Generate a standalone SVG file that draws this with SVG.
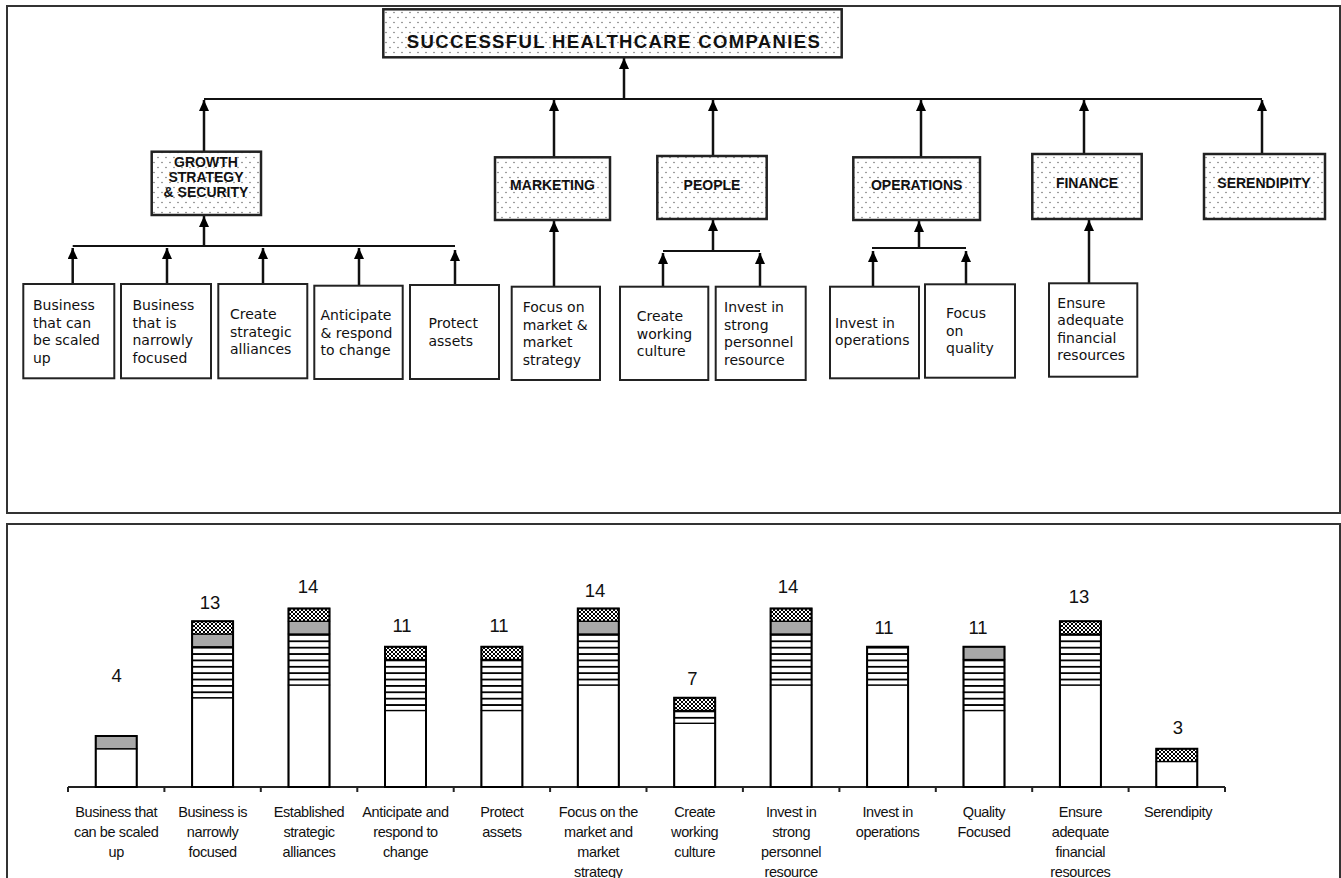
<svg xmlns="http://www.w3.org/2000/svg" width="1341" height="878" viewBox="0 0 1341 878">
<style>
.panel{fill:#fff;stroke:#333;stroke-width:2}
.cat{fill:url(#dots);stroke:#222;stroke-width:2.5}
.leaf{fill:#fff;stroke:#222;stroke-width:2}
.conn{fill:none;stroke:#111;stroke-width:2}
.arr{fill:none;stroke:#111;stroke-width:2.5;marker-end:url(#ah)}
.ct{font-family:"Liberation Sans",Arial,sans-serif;font-weight:bold;font-size:14px;fill:#111;text-anchor:middle}
.lt{font-family:"DejaVu Sans",Verdana,sans-serif;font-size:14px;fill:#111}
.val{font-family:"Liberation Sans",Arial,sans-serif;font-size:18.5px;fill:#111;text-anchor:middle}
.xl{font-family:"Liberation Sans",Arial,sans-serif;font-size:14.5px;fill:#111;text-anchor:middle;letter-spacing:-0.4px}
.seg{stroke:#000;stroke-width:1.3}
.w{fill:#fff}
.s{fill:url(#stripes)}
.g{fill:#a8a8a8}
.x{fill:url(#xh)}
.bar{fill:none;stroke:#000;stroke-width:2}
.axis{fill:none;stroke:#222;stroke-width:2}
</style>
<defs>
<pattern id="dots" width="8" height="10" patternUnits="userSpaceOnUse">
<rect width="8" height="10" fill="#fff"/>
<circle cx="2" cy="2.5" r="0.8" fill="#777"/>
<circle cx="6" cy="7.5" r="0.8" fill="#777"/>
</pattern>
<pattern id="xh" width="4" height="4" patternUnits="userSpaceOnUse">
<rect width="4" height="4" fill="#fff"/>
<path d="M0,0 L4,4 M4,0 L0,4" stroke="#000" stroke-width="1"/>
</pattern>
<pattern id="stripes" x="0" y="787" width="10" height="6.375" patternUnits="userSpaceOnUse">
<rect width="10" height="6.375" fill="#fff"/>
<rect width="10" height="1.8" fill="#000"/>
</pattern>
<marker id="ah" markerUnits="userSpaceOnUse" markerWidth="12" markerHeight="11" refX="11" refY="5" orient="auto">
<path d="M0,0 L11,5 L0,10 z" fill="#000"/>
</marker>
</defs>

<rect width="1341" height="878" fill="#fff"/>
<rect class="panel" x="7" y="6" width="1333" height="507"/>
<rect class="panel" x="7" y="524" width="1333" height="360"/>

<g id="connectors">
<path class="conn" d="M204,99 H1262"/>
<path class="arr" d="M624,99 V58"/>
<path class="arr" d="M204,152 V100"/>
<path class="arr" d="M554,157 V100"/>
<path class="arr" d="M713,156 V100"/>
<path class="arr" d="M921,157 V100"/>
<path class="arr" d="M1084,154 V100"/>
<path class="arr" d="M1262,154 V100"/>
<path class="conn" d="M72.7,246 H455"/>
<path class="arr" d="M204,246 V216"/>
<path class="arr" d="M72.7,284 V248"/>
<path class="arr" d="M167,284 V248"/>
<path class="arr" d="M263,284 V248"/>
<path class="arr" d="M359,285.7 V248"/>
<path class="arr" d="M455,285 V250"/>
<path class="arr" d="M554,286.7 V221"/>
<path class="conn" d="M663,251 H760"/>
<path class="arr" d="M713,251 V220"/>
<path class="arr" d="M663,286.7 V253"/>
<path class="arr" d="M760,286.7 V253"/>
<path class="conn" d="M872,248 H966"/>
<path class="arr" d="M919,248 V221"/>
<path class="arr" d="M873,286.7 V251"/>
<path class="arr" d="M966,284.3 V251"/>
<path class="arr" d="M1089,283.3 V220"/>
</g>

<g id="title">
<rect class="cat" x="383.3" y="9.3" width="458.4" height="48"/>
<text class="ct" x="613.3" y="48.3" style="font-size:18.5px" textLength="413" lengthAdjust="spacing">SUCCESSFUL HEALTHCARE COMPANIES</text>
</g>

<g id="cat-growth">
<rect class="cat" x="151.7" y="151.7" width="109.3" height="63.3"/>
<text class="ct" x="206" y="167">GROWTH</text>
<text class="ct" x="206" y="182">STRATEGY</text>
<text class="ct" x="206" y="197">&amp; SECURITY</text>
</g>
<g id="cat-marketing">
<rect class="cat" x="495" y="157.3" width="115" height="62.7"/>
<text class="ct" x="552.5" y="190">MARKETING</text>
</g>
<g id="cat-people">
<rect class="cat" x="657.3" y="156" width="109.4" height="63"/>
<text class="ct" x="712" y="190">PEOPLE</text>
</g>
<g id="cat-operations">
<rect class="cat" x="853.3" y="157.3" width="126.7" height="62.7"/>
<text class="ct" x="916.7" y="190">OPERATIONS</text>
</g>
<g id="cat-finance">
<rect class="cat" x="1032.3" y="154" width="109.4" height="65"/>
<text class="ct" x="1087" y="188">FINANCE</text>
</g>
<g id="cat-serendipity">
<rect class="cat" x="1204" y="154" width="121" height="65"/>
<text class="ct" x="1264" y="188">SERENDIPITY</text>
</g>

<g id="leaf-scaled">
<rect class="leaf" x="23.3" y="284" width="91" height="94.3"/>
<text class="lt" x="33" y="310">Business</text>
<text class="lt" x="33" y="327.7">that can</text>
<text class="lt" x="33" y="345.4">be scaled</text>
<text class="lt" x="33" y="363.1">up</text>
</g>
<g id="leaf-narrow">
<rect class="leaf" x="121" y="284" width="90" height="94.3"/>
<text class="lt" x="132.5" y="310">Business</text>
<text class="lt" x="132.5" y="327.7">that is</text>
<text class="lt" x="132.5" y="345.4">narrowly</text>
<text class="lt" x="132.5" y="363.1">focused</text>
</g>
<g id="leaf-alliances">
<rect class="leaf" x="218.3" y="284" width="89" height="94.3"/>
<text class="lt" x="230" y="319">Create</text>
<text class="lt" x="230" y="336.5">strategic</text>
<text class="lt" x="230" y="354">alliances</text>
</g>
<g id="leaf-anticipate">
<rect class="leaf" x="314.3" y="285.7" width="88.4" height="93.3"/>
<text class="lt" x="320.5" y="320">Anticipate</text>
<text class="lt" x="320.5" y="337.5">&amp; respond</text>
<text class="lt" x="320.5" y="355">to change</text>
</g>
<g id="leaf-protect">
<rect class="leaf" x="410" y="285" width="89" height="94"/>
<text class="lt" x="428.5" y="328.3">Protect</text>
<text class="lt" x="428.5" y="346">assets</text>
</g>
<g id="leaf-market">
<rect class="leaf" x="511.7" y="286.7" width="88.3" height="93.3"/>
<text class="lt" x="522.7" y="312.3">Focus on</text>
<text class="lt" x="522.7" y="329.8">market &amp;</text>
<text class="lt" x="522.7" y="347.3">market</text>
<text class="lt" x="522.7" y="364.8">strategy</text>
</g>
<g id="leaf-culture">
<rect class="leaf" x="620" y="286.7" width="88.3" height="93.3"/>
<text class="lt" x="636.7" y="321">Create</text>
<text class="lt" x="636.7" y="338.5">working</text>
<text class="lt" x="636.7" y="356">culture</text>
</g>
<g id="leaf-personnel">
<rect class="leaf" x="715.7" y="286.7" width="90" height="93.3"/>
<text class="lt" x="724" y="312.3">Invest in</text>
<text class="lt" x="724" y="329.8">strong</text>
<text class="lt" x="724" y="347.3">personnel</text>
<text class="lt" x="724" y="364.8">resource</text>
</g>
<g id="leaf-operations">
<rect class="leaf" x="830" y="286.7" width="89" height="91.6"/>
<text class="lt" x="835" y="327.7">Invest in</text>
<text class="lt" x="835" y="345.2">operations</text>
</g>
<g id="leaf-quality">
<rect class="leaf" x="925" y="284.3" width="90" height="93.4"/>
<text class="lt" x="946" y="318.3">Focus</text>
<text class="lt" x="946" y="335.8">on</text>
<text class="lt" x="946" y="353.3">quality</text>
</g>
<g id="leaf-financial">
<rect class="leaf" x="1049" y="283.3" width="88.3" height="93.4"/>
<text class="lt" x="1057.3" y="307.7">Ensure</text>
<text class="lt" x="1057.3" y="325.2">adequate</text>
<text class="lt" x="1057.3" y="342.7">financial</text>
<text class="lt" x="1057.3" y="360.2">resources</text>
</g>

<g id="chart">
<path class="axis" d="M68,787 H1225 M68,787 V792 M164.4,787 V792 M260.8,787 V792 M357.3,787 V792 M453.7,787 V792 M550.1,787 V792 M646.5,787 V792 M742.9,787 V792 M839.4,787 V792 M935.8,787 V792 M1032.2,787 V792 M1128.6,787 V792 M1225,787 V792"/>

<g id="bar1">
<rect class="seg w" x="95.7" y="748.75" width="41" height="38.25"/>
<rect class="seg g" x="95.7" y="736" width="41" height="12.75"/>
<rect class="bar" x="95.7" y="736" width="41" height="51"/>
<text class="val" x="116.7" y="681.5">4</text>
</g>
<g id="bar2">
<rect class="seg w" x="192.1" y="697.75" width="41" height="89.25"/>
<rect class="seg s" x="192.1" y="646.75" width="41" height="51"/>
<rect class="seg g" x="192.1" y="634" width="41" height="12.75"/>
<rect class="seg x" x="192.1" y="621.25" width="41" height="12.75"/>
<rect class="bar" x="192.1" y="621.25" width="41" height="165.75"/>
<text class="val" x="210" y="609">13</text>
</g>
<g id="bar3">
<rect class="seg w" x="288.5" y="685" width="41" height="102"/>
<rect class="seg s" x="288.5" y="634" width="41" height="51"/>
<rect class="seg g" x="288.5" y="621.25" width="41" height="12.75"/>
<rect class="seg x" x="288.5" y="608.5" width="41" height="12.75"/>
<rect class="bar" x="288.5" y="608.5" width="41" height="178.5"/>
<text class="val" x="308" y="592.5">14</text>
</g>
<g id="bar4">
<rect class="seg w" x="385" y="710.5" width="41" height="76.5"/>
<rect class="seg s" x="385" y="659.5" width="41" height="51"/>
<rect class="seg x" x="385" y="646.75" width="41" height="12.75"/>
<rect class="bar" x="385" y="646.75" width="41" height="140.25"/>
<text class="val" x="402" y="632">11</text>
</g>
<g id="bar5">
<rect class="seg w" x="481.4" y="710.5" width="41" height="76.5"/>
<rect class="seg s" x="481.4" y="659.5" width="41" height="51"/>
<rect class="seg x" x="481.4" y="646.75" width="41" height="12.75"/>
<rect class="bar" x="481.4" y="646.75" width="41" height="140.25"/>
<text class="val" x="499" y="632">11</text>
</g>
<g id="bar6">
<rect class="seg w" x="577.8" y="685" width="41" height="102"/>
<rect class="seg s" x="577.8" y="634" width="41" height="51"/>
<rect class="seg g" x="577.8" y="621.25" width="41" height="12.75"/>
<rect class="seg x" x="577.8" y="608.5" width="41" height="12.75"/>
<rect class="bar" x="577.8" y="608.5" width="41" height="178.5"/>
<text class="val" x="595" y="596.5">14</text>
</g>
<g id="bar7">
<rect class="seg w" x="674.2" y="723.25" width="41" height="63.75"/>
<rect class="seg s" x="674.2" y="710.5" width="41" height="12.75"/>
<rect class="seg x" x="674.2" y="697.75" width="41" height="12.75"/>
<rect class="bar" x="674.2" y="697.75" width="41" height="89.25"/>
<text class="val" x="692.5" y="685">7</text>
</g>
<g id="bar8">
<rect class="seg w" x="770.6" y="685" width="41" height="102"/>
<rect class="seg s" x="770.6" y="634" width="41" height="51"/>
<rect class="seg g" x="770.6" y="621.25" width="41" height="12.75"/>
<rect class="seg x" x="770.6" y="608.5" width="41" height="12.75"/>
<rect class="bar" x="770.6" y="608.5" width="41" height="178.5"/>
<text class="val" x="788" y="592.5">14</text>
</g>
<g id="bar9">
<rect class="seg w" x="867.1" y="685" width="41" height="102"/>
<rect class="seg s" x="867.1" y="646.75" width="41" height="38.25"/>
<rect class="bar" x="867.1" y="646.75" width="41" height="140.25"/>
<text class="val" x="884" y="634">11</text>
</g>
<g id="bar10">
<rect class="seg w" x="963.5" y="710.5" width="41" height="76.5"/>
<rect class="seg s" x="963.5" y="659.5" width="41" height="51"/>
<rect class="seg g" x="963.5" y="646.75" width="41" height="12.75"/>
<rect class="bar" x="963.5" y="646.75" width="41" height="140.25"/>
<text class="val" x="978" y="634">11</text>
</g>
<g id="bar11">
<rect class="seg w" x="1059.9" y="685" width="41" height="102"/>
<rect class="seg s" x="1059.9" y="634" width="41" height="51"/>
<rect class="seg x" x="1059.9" y="621.25" width="41" height="12.75"/>
<rect class="bar" x="1059.9" y="621.25" width="41" height="165.75"/>
<text class="val" x="1079" y="602.5">13</text>
</g>
<g id="bar12">
<rect class="seg w" x="1156.3" y="761.5" width="41" height="25.5"/>
<rect class="seg x" x="1156.3" y="748.75" width="41" height="12.75"/>
<rect class="bar" x="1156.3" y="748.75" width="41" height="38.25"/>
<text class="val" x="1178" y="734">3</text>
</g>

<g id="xlabels">
<text class="xl" x="116.2" y="817">Business that</text>
<text class="xl" x="116.2" y="837">can be scaled</text>
<text class="xl" x="116.2" y="857">up</text>
<text class="xl" x="212.6" y="817">Business is</text>
<text class="xl" x="212.6" y="837">narrowly</text>
<text class="xl" x="212.6" y="857">focused</text>
<text class="xl" x="309" y="817">Established</text>
<text class="xl" x="309" y="837">strategic</text>
<text class="xl" x="309" y="857">alliances</text>
<text class="xl" x="405.5" y="817">Anticipate and</text>
<text class="xl" x="405.5" y="837">respond to</text>
<text class="xl" x="405.5" y="857">change</text>
<text class="xl" x="501.9" y="817">Protect</text>
<text class="xl" x="501.9" y="837">assets</text>
<text class="xl" x="598.3" y="817">Focus on the</text>
<text class="xl" x="598.3" y="837">market and</text>
<text class="xl" x="598.3" y="857">market</text>
<text class="xl" x="598.3" y="877">strategy</text>
<text class="xl" x="694.7" y="817">Create</text>
<text class="xl" x="694.7" y="837">working</text>
<text class="xl" x="694.7" y="857">culture</text>
<text class="xl" x="791.1" y="817">Invest in</text>
<text class="xl" x="791.1" y="837">strong</text>
<text class="xl" x="791.1" y="857">personnel</text>
<text class="xl" x="791.1" y="877">resource</text>
<text class="xl" x="887.6" y="817">Invest in</text>
<text class="xl" x="887.6" y="837">operations</text>
<text class="xl" x="984" y="817">Quality</text>
<text class="xl" x="984" y="837">Focused</text>
<text class="xl" x="1080.4" y="817">Ensure</text>
<text class="xl" x="1080.4" y="837">adequate</text>
<text class="xl" x="1080.4" y="857">financial</text>
<text class="xl" x="1080.4" y="877">resources</text>
<text class="xl" x="1178" y="817">Serendipity</text>
</g>
</g>
</svg>
